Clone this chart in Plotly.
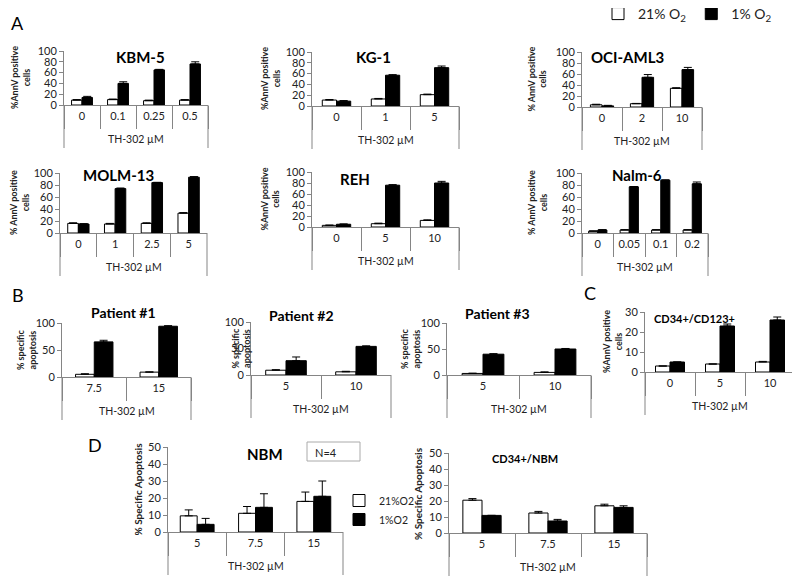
import plotly.graph_objects as go

OX, OY = 8, 8          # page body margin of the html page
W, H = 800 - OX, 582 - OY
FONT = "Lato"
GRAY = "#858585"
TXT = "#222222"

# ---------------- data ----------------
kbm5_doses = ["0", "0.1", "0.25", "0.5"]
kbm5_21 = [9, 10, 8, 9]
kbm5_21_err = [1, 1, 1, 1]
kbm5_1 = [14, 40, 65, 76]
kbm5_1_err = [2, 3, 1, 4]

kg1_doses = ["0", "1", "5"]
kg1_21 = [11, 13, 21]
kg1_21_err = [1, 1, 1]
kg1_1 = [9, 57, 71]
kg1_1_err = [1, 1, 3]

oci_doses = ["0", "2", "10"]
oci_21 = [4, 6, 34]
oci_21_err = [1, 0.5, 1]
oci_1 = [2, 54, 68]
oci_1_err = [1, 5, 4]

molm_doses = ["0", "1", "2.5", "5"]
molm_21 = [16, 15, 16, 33]
molm_21_err = [1, 1, 1, 1]
molm_1 = [15, 74, 84, 93]
molm_1_err = [0.5, 1, 0.5, 1]

reh_doses = ["0", "5", "10"]
reh_21 = [3, 6, 12]
reh_21_err = [0.5, 1, 1]
reh_1 = [5, 76, 80]
reh_1_err = [0.5, 1, 3]

nalm_doses = ["0", "0.05", "0.1", "0.2"]
nalm_21 = [3, 5, 5, 5]
nalm_21_err = [0.5, 0.5, 0.5, 0.5]
nalm_1 = [5, 77, 88, 82]
nalm_1_err = [0.5, 0.5, 0.5, 3]

p1_doses = ["7.5", "15"]
p1_21 = [5, 9]
p1_21_err = [1, 0.5]
p1_1 = [65, 94]
p1_1_err = [3, 1]

p2_doses = ["5", "10"]
p2_21 = [9, 6]
p2_21_err = [1, 1]
p2_1 = [27, 54]
p2_1_err = [7, 1]

p3_doses = ["5", "10"]
p3_21 = [3, 5]
p3_21_err = [0.5, 1]
p3_1 = [40, 50]
p3_1_err = [1, 1]

cd123_doses = ["0", "5", "10"]
cd123_21 = [3, 4, 5]
cd123_21_err = [0, 0, 0.3]
cd123_1 = [5, 23, 26]
cd123_1_err = [0, 1, 1.5]

nbm_doses = ["5", "7.5", "15"]
nbm_21 = [9.5, 11, 18]
nbm_21_err = [3.5, 4, 5.5]
nbm_1 = [4.5, 14.5, 21]
nbm_1_err = [3.5, 8, 9]

cd34nbm_doses = ["5", "7.5", "15"]
cd34nbm_21 = [20.5, 12.5, 17]
cd34nbm_21_err = [1, 1, 1]
cd34nbm_1 = [11, 7.5, 16]
cd34nbm_1_err = [0, 1, 1]

xlabel = "TH-302 µM"
annv = "%AnnV positive<br>cells"
annv_s = "% AnnV positive<br>cells"
spec = "% specific<br>apoptosis"
specA = "% Specific Apoptosis"

# ---------------- panels (data + layout geometry in page px) ----------------
panels = [
    dict(title="KBM-5", cats=kbm5_doses, w=kbm5_21, we=kbm5_21_err, b=kbm5_1, be=kbm5_1_err,
         ymax=100, dtick=20, ylab=annv, box=(64, 208, 51, 105), t=(140, 57), ts=15, yl=20, yls=9),
    dict(title="KG-1", cats=kg1_doses, w=kg1_21, we=kg1_21_err, b=kg1_1, be=kg1_1_err,
         ymax=100, dtick=20, ylab=annv, box=(312, 459, 52, 106), t=(373, 57), ts=15, yl=270, yls=9),
    dict(title="OCI-AML3", cats=oci_doses, w=oci_21, we=oci_21_err, b=oci_1, be=oci_1_err,
         ymax=100, dtick=20, ylab=annv_s, box=(582, 702, 52, 107), t=(627, 57), ts=15, yl=537, yls=9),
    dict(title="MOLM-13", cats=molm_doses, w=molm_21, we=molm_21_err, b=molm_1, be=molm_1_err,
         ymax=100, dtick=20, ylab=annv_s, box=(60, 207, 173, 233), t=(118, 175), ts=15, yl=20, yls=9),
    dict(title="REH", cats=reh_doses, w=reh_21, we=reh_21_err, b=reh_1, be=reh_1_err,
         ymax=100, dtick=20, ylab=annv, box=(312, 459, 172, 227), t=(355, 179), ts=15, yl=270, yls=9),
    dict(title="Nalm-6", cats=nalm_doses, w=nalm_21, we=nalm_21_err, b=nalm_1, be=nalm_1_err,
         ymax=100, dtick=20, ylab=annv_s, box=(582, 708, 173, 233), t=(637, 175), ts=15, yl=538, yls=9),
    dict(title="Patient #1", cats=p1_doses, w=p1_21, we=p1_21_err, b=p1_1, be=p1_1_err,
         ymax=100, dtick=50, ylab=spec, box=(62, 191, 323, 377), t=(123, 312), ts=14, yl=26, yls=9),
    dict(title="Patient #2", cats=p2_doses, w=p2_21, we=p2_21_err, b=p2_1, be=p2_1_err,
         ymax=100, dtick=50, ylab=spec, box=(251, 391, 322, 375), t=(301, 315), ts=14, yl=241, yls=9),
    dict(title="Patient #3", cats=p3_doses, w=p3_21, we=p3_21_err, b=p3_1, be=p3_1_err,
         ymax=100, dtick=50, ylab=spec, box=(447, 591, 323, 375), t=(497, 313), ts=14, yl=410, yls=9),
    dict(title="CD34+/CD123+", cats=cd123_doses, w=cd123_21, we=cd123_21_err, b=cd123_1, be=cd123_1_err,
         ymax=30, dtick=10, ylab=annv, box=(645, 795, 312, 372), t=(694, 318), ts=11, yl=612, yls=9),
    dict(title="NBM", cats=nbm_doses, w=nbm_21, we=nbm_21_err, b=nbm_1, be=nbm_1_err,
         ymax=50, dtick=10, ylab=specA, box=(168, 343, 447, 532), t=(265, 454), ts=15, yl=137, yls=10),
    dict(title="CD34+/NBM", cats=cd34nbm_doses, w=cd34nbm_21, we=cd34nbm_21_err, b=cd34nbm_1, be=cd34nbm_1_err,
         ymax=50, dtick=10, ylab=specA, box=(449, 647, 453, 533), t=(525, 458), ts=11, yl=418, yls=10),
]


def px(x):
    return (x - OX) / W


def py(y):
    return 1 - (y - OY) / H


fig = go.Figure()
layout = {}
shapes = []
annotations = []

for i, p in enumerate(panels, start=1):
    sx = "" if i == 1 else str(i)
    xa, ya = "x" + sx, "y" + sx
    L, R, T, B = p["box"]
    hpx = B - T
    n = len(p["cats"])
    err_common = dict(type="data", symmetric=False, color="black", thickness=1, width=4)

    if i == 1:
        showleg, lg = True, "legend"
    elif i == 11:
        showleg, lg = True, "legend2"
    else:
        showleg, lg = False, "legend"

    fig.add_trace(go.Bar(
        x=p["cats"], y=p["w"], xaxis=xa, yaxis=ya,
        name="21% O<sub>2</sub>" if i == 1 else "21%O2",
        marker=dict(color="white", line=dict(color="black", width=1)),
        error_y=dict(array=p["we"], arrayminus=[0] * n, **err_common),
        showlegend=showleg, legend=lg,
    ))
    fig.add_trace(go.Bar(
        x=p["cats"], y=p["b"], xaxis=xa, yaxis=ya,
        name="1% O<sub>2</sub>" if i == 1 else "1%O2",
        marker=dict(color="black", line=dict(color="black", width=1)),
        error_y=dict(array=p["be"], arrayminus=[0] * n, **err_common),
        showlegend=showleg, legend=lg,
    ))

    layout["xaxis" + sx] = dict(
        domain=[px(L), px(R)], anchor=ya, type="category",
        showline=True, linecolor=GRAY, linewidth=1,
        ticks="outside", tickson="boundaries", ticklen=23, tickcolor=GRAY, tickwidth=1,
        ticklabelstandoff=1,
        tickfont=dict(family=FONT, size=11, color=TXT),
        showgrid=False, zeroline=False, fixedrange=True,
    )
    layout["yaxis" + sx] = dict(
        domain=[py(B), py(T)], anchor=xa, range=[0, p["ymax"]], dtick=p["dtick"],
        showline=True, linecolor=GRAY, linewidth=1,
        ticks="outside", ticklen=4, tickcolor=GRAY,
        tickfont=dict(family=FONT, size=11, color=TXT),
        showgrid=False, zeroline=False, fixedrange=True,
    )

    # outer vertical lines of the category box
    for xd in (0, 1):
        shapes.append(dict(type="line", xref=xa + " domain", yref=ya + " domain",
                           x0=xd, x1=xd, y0=0, y1=-43 / hpx,
                           line=dict(color=GRAY, width=1)))

    # x-axis label
    annotations.append(dict(text=xlabel, xref=xa + " domain", yref=ya + " domain",
                            x=0.5, y=-34 / hpx, showarrow=False,
                            xanchor="center", yanchor="middle",
                            font=dict(family=FONT, size=10.5, color=TXT)))
    # title
    annotations.append(dict(text="<b>" + p["title"] + "</b>", xref="paper", yref="paper",
                            x=px(p["t"][0]), y=py(p["t"][1]), showarrow=False,
                            xanchor="center", yanchor="middle",
                            font=dict(family=FONT, size=p["ts"], color="black")))
    # y label
    annotations.append(dict(text="<b>" + p["ylab"] + "</b>", xref="paper", yref=ya + " domain",
                            x=px(p["yl"]), y=0.5, textangle=-90, showarrow=False,
                            xanchor="center", yanchor="middle",
                            font=dict(family=FONT, size=p["yls"], color=TXT)))

# panel letters
for letter, (lx, ly) in zip(["A", "B", "C", "D"], [(17, 23), (18, 295), (590, 293), (95, 445)]):
    annotations.append(dict(text=letter, xref="paper", yref="paper", x=px(lx), y=py(ly),
                            xanchor="center", yanchor="middle",
                            showarrow=False, font=dict(family=FONT, size=18, color="black")))

# N=4 box
shapes.append(dict(type="rect", xref="paper", yref="paper",
                   x0=px(307), x1=px(360), y0=py(461), y1=py(442),
                   line=dict(color="#aaaaaa", width=1)))
annotations.append(dict(text="N=4", xref="paper", yref="paper", x=px(313), y=py(452),
                        xanchor="left", yanchor="middle", showarrow=False,
                        font=dict(family=FONT, size=11, color=TXT)))

layout.update(
    width=W, height=H,
    margin=dict(l=0, r=0, t=0, b=0, autoexpand=False),
    paper_bgcolor="white", plot_bgcolor="white",
    barmode="group", bargap=0.42, bargroupgap=0,
    shapes=shapes, annotations=annotations,
    legend=dict(orientation="h", x=px(598), y=py(14), xanchor="left", yanchor="middle",
                font=dict(family=FONT, size=14, color=TXT), bgcolor="rgba(0,0,0,0)",
                itemwidth=30, tracegroupgap=0),
    legend2=dict(orientation="v", x=px(339), y=py(486), xanchor="left", yanchor="top",
                 font=dict(family=FONT, size=10.5, color=TXT), bgcolor="rgba(0,0,0,0)",
                 itemwidth=30),
    font=dict(family=FONT, color=TXT),
)
fig.update_layout(**layout)
fig.write_html("out.html")
